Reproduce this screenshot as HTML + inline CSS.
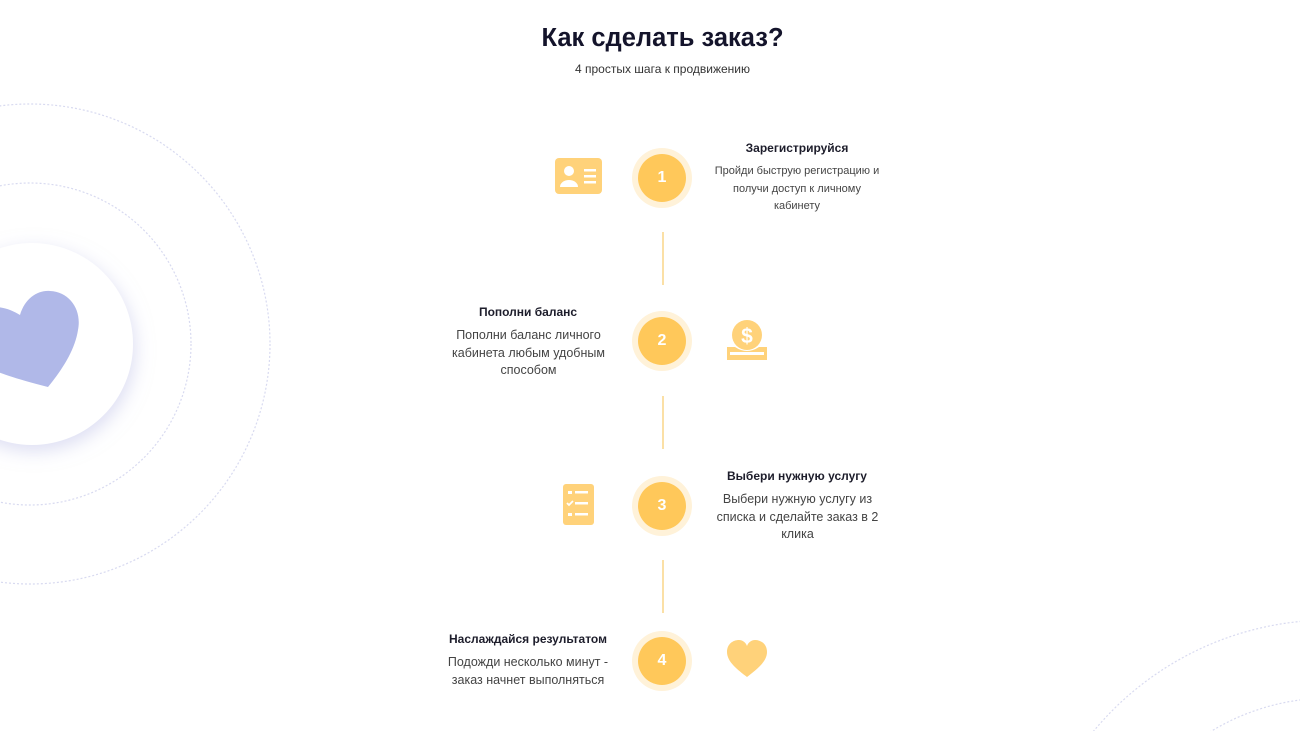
<!DOCTYPE html>
<html style="overflow:hidden"><head><meta charset="utf-8"><style>
html,body{overflow:hidden}
body{margin:0;width:1300px;height:731px;background:#fff;font-family:"Liberation Sans","DejaVu Sans",sans-serif;position:relative;color:#1d1d2b}
.a{position:absolute;text-align:center}
h1{position:absolute;left:0;width:1325px;top:24px;margin:0;text-align:center;font-size:25.5px;font-weight:bold;color:#14142b}
.sub{top:62px;left:0;width:1325px;font-size:12px;color:#333}
.t{font-weight:bold;font-size:12px;width:220px;margin-left:-110px}
.d{color:#444;width:180px;margin-left:-90px;line-height:17.5px}
.num{position:absolute;width:48px;height:48px;margin:-23px -24px;border-radius:50%;background:#ffc85a;box-shadow:0 0 0 6px #fff2d9;color:#fff;font-weight:bold;font-size:16px;line-height:48px;text-align:center}
.ln{position:absolute;left:662px;width:2px;height:53px;background:#fbe0a6}
</style></head><body>
<svg width="1300" height="731" style="position:absolute;left:0;top:0">
<circle cx="30" cy="344" r="161" fill="none" stroke="#d8daf0" stroke-width="1.2" stroke-dasharray="2 2"/>
<circle cx="30" cy="344" r="240" fill="none" stroke="#d8daf0" stroke-width="1.2" stroke-dasharray="2 2"/>
<circle cx="1330" cy="927" r="307" fill="none" stroke="#d8daf0" stroke-width="1.2" stroke-dasharray="2 2"/>
<circle cx="1330" cy="927" r="229" fill="none" stroke="#d8daf0" stroke-width="1.2" stroke-dasharray="2 2"/>
<defs><filter id="sh" x="-50%" y="-50%" width="200%" height="200%"><feDropShadow dx="2" dy="6" stdDeviation="9" flood-color="#b9bce6" flood-opacity="0.5"/></filter></defs>
<circle cx="32" cy="344" r="101" fill="#fff" filter="url(#sh)"/>
<path d="M48 387 C20 380 -5 372 -10 368 L-10 308 C0 305 12 310 20 315 C25 298 38 290 50 291 C70 292 82 310 78 330 C75 350 62 370 48 387 Z" fill="#b0b8e8"/>
<rect x="555" y="158" width="47" height="36" rx="4" fill="#ffd27a"/>
<circle cx="569" cy="171" r="5" fill="#fff"/>
<path d="M560 187 a9 7 0 0 1 18 0 z" fill="#fff"/>
<rect x="584" y="169" width="12" height="2.5" fill="#fff"/><rect x="584" y="175" width="12" height="2.5" fill="#fff"/><rect x="584" y="181" width="12" height="2.5" fill="#fff"/>
<circle cx="747" cy="335" r="15" fill="#ffd27a"/>
<text x="747" y="343" text-anchor="middle" font-size="21" font-weight="bold" fill="#fff" font-family="Liberation Sans">$</text>
<path d="M727 347 h8 q12 8 24 0 h8 v13 h-40 z" fill="#ffd27a"/>
<rect x="730" y="352" width="34" height="3" fill="#fff"/>
<rect x="563" y="484" width="31" height="41" rx="3" fill="#ffd27a"/>
<rect x="568" y="491" width="4" height="3" fill="#fff"/><rect x="575" y="491" width="13" height="2.5" fill="#fff"/>
<path d="M567 503 l2 2 l4 -4" stroke="#fff" stroke-width="1.8" fill="none"/><rect x="575" y="502" width="13" height="2.5" fill="#fff"/>
<rect x="568" y="513" width="4" height="3" fill="#fff"/><rect x="575" y="513" width="13" height="2.5" fill="#fff"/>
<path d="M747 677 C738 670 727 662 727 652 C727 644 733 640 739 640 C743 640 746 643 747 646 C748 643 751 640 755 640 C761 640 767 644 767 652 C767 662 756 670 747 677 Z" fill="#ffd27a"/>
</svg>
<h1>Как сделать заказ?</h1>
<div class="a sub">4 простых шага к продвижению</div>
<div class="num" style="left:662px;top:177px">1</div>
<div class="num" style="left:662px;top:340px">2</div>
<div class="num" style="left:662px;top:505px">3</div>
<div class="num" style="left:662px;top:660px">4</div>
<div class="ln" style="top:232px"></div>
<div class="ln" style="top:396px"></div>
<div class="ln" style="top:560px"></div>
<div class="a t" style="left:797px;top:141px">Зарегистрируйся</div>
<div class="a d" style="left:797px;top:163px;font-size:11px;width:170px;margin-left:-85px">Пройди быструю регистрацию и получи доступ к личному кабинету</div>
<div class="a t" style="left:528px;top:305px">Пополни баланс</div>
<div class="a d" style="left:528px;top:327px;font-size:12.5px;width:155px;margin-left:-77px">Пополни баланс личного кабинета любым удобным способом</div>
<div class="a t" style="left:797px;top:469px">Выбери нужную услугу</div>
<div class="a d" style="left:797px;top:491px;font-size:12.5px;width:165px;margin-left:-82px">Выбери нужную услугу из списка и сделайте заказ в 2 клика</div>
<div class="a t" style="left:528px;top:632px">Наслаждайся результатом</div>
<div class="a d" style="left:528px;top:654px;font-size:12.5px;width:170px;margin-left:-85px">Подожди несколько минут - заказ начнет выполняться</div>
</body></html>
